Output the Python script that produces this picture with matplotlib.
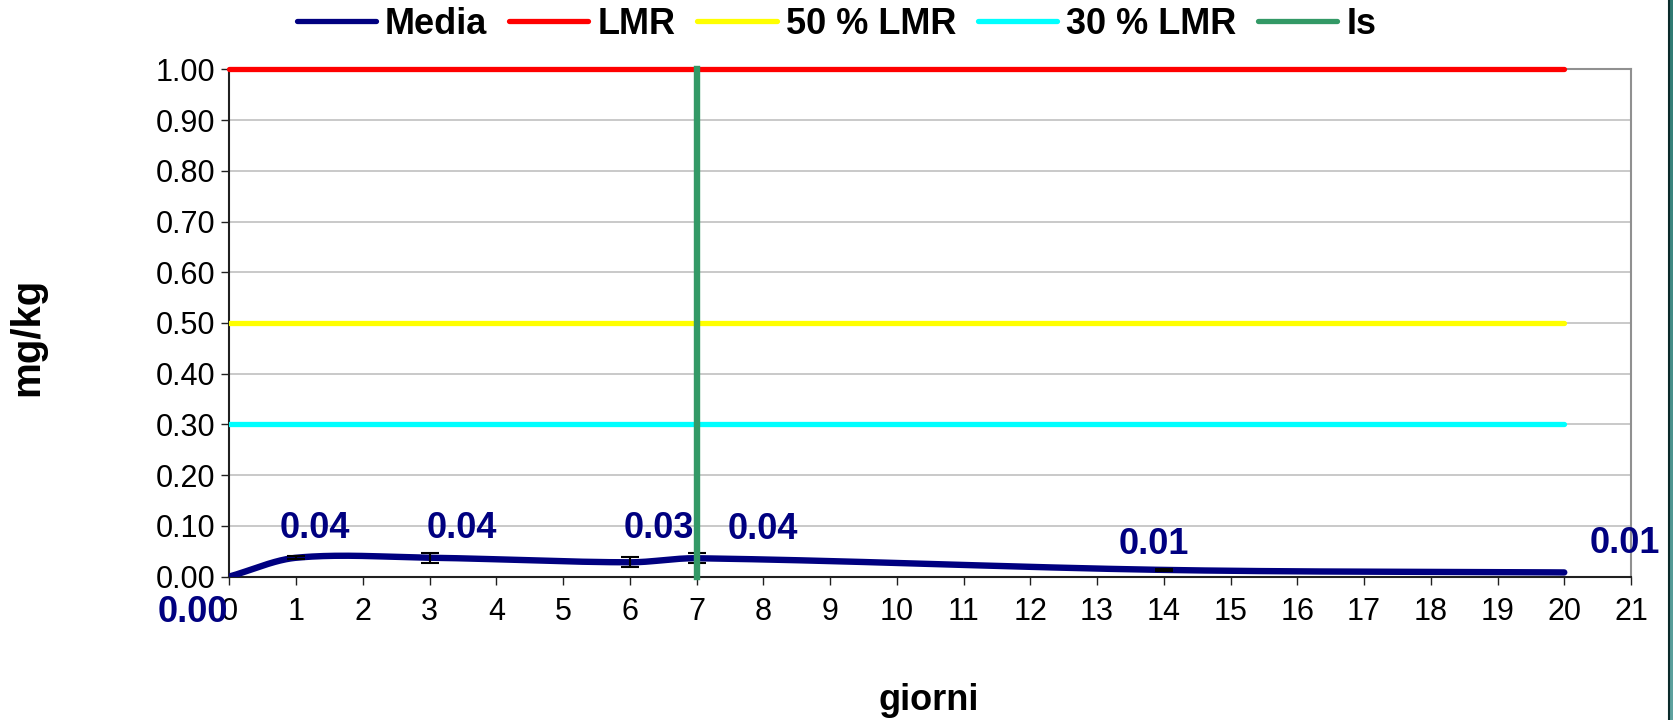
import numpy as np
import matplotlib
matplotlib.use("Agg")
import matplotlib.pyplot as plt
from matplotlib.lines import Line2D

# Dati
giorni = [0, 1, 3, 6, 7, 14, 20]
media = [0.000, 0.037, 0.037, 0.028, 0.036, 0.013, 0.008]
errore = [0.000, 0.003, 0.010, 0.010, 0.010, 0.002, 0.000]
etichette = ["0.00", "0.04", "0.04", "0.03", "0.04", "0.01", "0.01"]
# posizione delle etichette rispetto al punto (pixel)
offset_etichette = [(-37, -36), (19, 29), (32, 29), (29, 34), (66, 29), (-10, 25), (61, 29)]

LMR = 1.0
LMR_50 = 0.5
LMR_30 = 0.3
IS_GIORNO = 7

NAVY = "#000080"
FONT = ["Liberation Sans", "DejaVu Sans"]


def smooth(x, y, n=60):
    # curva smussata (Hermite cubica con tangenti tipo Catmull-Rom in x)
    x = np.asarray(x, float)
    y = np.asarray(y, float)
    m = np.zeros_like(y)
    m[0] = (y[1] - y[0]) / (x[1] - x[0])
    m[-1] = (y[-1] - y[-2]) / (x[-1] - x[-2])
    m[1:-1] = (y[2:] - y[:-2]) / (x[2:] - x[:-2])
    xs, ys = [], []
    for i in range(len(x) - 1):
        h = x[i + 1] - x[i]
        t = np.linspace(0, 1, n)
        h00 = 2 * t**3 - 3 * t**2 + 1
        h10 = t**3 - 2 * t**2 + t
        h01 = -2 * t**3 + 3 * t**2
        h11 = t**3 - t**2
        xs.append(x[i] + t * h)
        ys.append(h00 * y[i] + h10 * h * m[i] + h01 * y[i + 1] + h11 * h * m[i + 1])
    return np.concatenate(xs), np.concatenate(ys)


fig = plt.figure(figsize=(16.74, 7.2), dpi=100)
fig.patch.set_facecolor("white")
ax = fig.add_axes([229.5 / 1674, 1 - 576.5 / 720, (1631 - 229.5) / 1674, (576.5 - 69.4) / 720])

ax.set_xlim(0, 21)
ax.set_ylim(0, 1)
ax.set_yticks(np.arange(0, 1.01, 0.1))
ax.set_xticks(range(0, 22))
ax.yaxis.set_major_formatter(matplotlib.ticker.FormatStrFormatter("%.2f"))
ax.grid(axis="y", color="#c0c0c0", linewidth=1.2)
ax.set_axisbelow(True)

# linee orizzontali dei limiti
ax.plot([0, 20], [LMR, LMR], color="#FF0000", linewidth=3.8, solid_capstyle="round", clip_on=False, zorder=3)
ax.plot([0, 20], [LMR_50, LMR_50], color="#FFFF00", linewidth=3.8, solid_capstyle="round", zorder=3)
ax.plot([0, 20], [LMR_30, LMR_30], color="#00FFFF", linewidth=3.8, solid_capstyle="round", zorder=3)

# media con barre di errore
xs, ys = smooth(giorni, media)
ax.plot(xs, ys, color=NAVY, linewidth=4.6, solid_capstyle="round", zorder=4)
ax.errorbar(giorni[1:-1], media[1:-1], yerr=errore[1:-1], fmt="none", ecolor="black",
            elinewidth=1.5, capsize=6.5, capthick=1.5, zorder=5)

# intervallo di sicurezza
ax.plot([IS_GIORNO, IS_GIORNO], [0, 1], color="#339966", linewidth=4.6, zorder=6, clip_on=False)

for g, m, lab, (dx, dy) in zip(giorni, media, etichette, offset_etichette):
    ax.annotate(lab, (g, m), xytext=(dx * 0.72, dy * 0.72), textcoords="offset points",
                ha="center", va="center", color=NAVY, fontsize=26, fontweight="bold",
                family=FONT, annotation_clip=False, zorder=7)

for side in ["left", "bottom"]:
    ax.spines[side].set_color("#202020")
    ax.spines[side].set_linewidth(1.5)
for side in ["top", "right"]:
    ax.spines[side].set_color("#909090")
    ax.spines[side].set_linewidth(1.5)

ax.tick_params(axis="both", direction="out", length=6, width=1, colors="#202020", labelsize=22)
ax.tick_params(axis="x", pad=9)
ax.tick_params(axis="y", pad=4)
for lab in ax.get_xticklabels() + ax.get_yticklabels():
    lab.set_family(FONT)
    lab.set_color("black")

fig.text(27 / 1674, 1 - 337 / 720, "mg/kg", rotation=90, ha="center", va="center",
         fontsize=29, fontweight="bold", family=FONT)
fig.text(929 / 1674, 1 - 700 / 720, "giorni", ha="center", va="center",
         fontsize=26, fontweight="bold", family=FONT)

handles = [
    Line2D([], [], color=NAVY, linewidth=3.8, solid_capstyle="round"),
    Line2D([], [], color="#FF0000", linewidth=3.8, solid_capstyle="round"),
    Line2D([], [], color="#FFFF00", linewidth=3.8, solid_capstyle="round"),
    Line2D([], [], color="#00FFFF", linewidth=3.8, solid_capstyle="round"),
    Line2D([], [], color="#339966", linewidth=3.8, solid_capstyle="round"),
]
fig.legend(handles, ["Media", "LMR", "50 % LMR", "30 % LMR", "Is"], loc="center",
           bbox_to_anchor=(0.4997, 0.966), ncol=5, frameon=False, handlelength=2.2,
           handletextpad=0.25, columnspacing=0.6,
           prop={"family": FONT, "weight": "bold", "size": 26})

# barra laterale destra
side = fig.add_axes([1669 / 1674, 0, 5 / 1674, 1])
grad = np.linspace(0, 1, 256)[:, None]
side.imshow(grad, aspect="auto", cmap=matplotlib.colors.LinearSegmentedColormap.from_list(
    "teal", ["#2f7a72", "#5fa3a0"]), extent=[0, 1, 0, 1])
side.set_axis_off()
fig.add_artist(Line2D([1669 / 1674, 1669 / 1674], [0, 1], color="#0a2a2a", linewidth=1.5))

fig.savefig("out.png", dpi=100, facecolor="white")
